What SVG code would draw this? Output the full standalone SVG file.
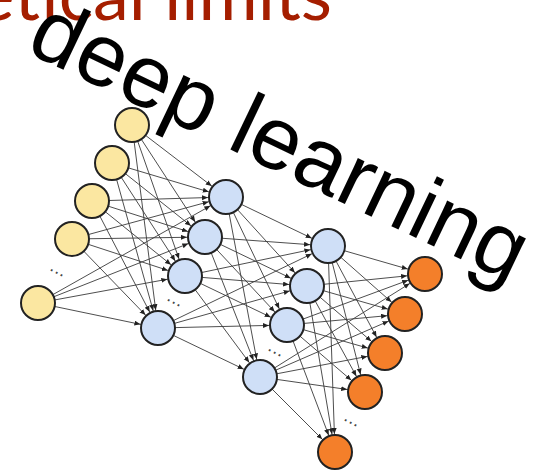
<svg xmlns="http://www.w3.org/2000/svg" width="537" height="472" viewBox="0 0 537 472">
  <defs>
    <marker id="arrow" markerUnits="userSpaceOnUse" markerWidth="7" markerHeight="6" refX="24" refY="2.5" orient="auto">
      <path d="M0,0 L6,2.5 L0,5 z" fill="#222"/>
    </marker>
    <style>
      .edge { stroke: #3a3a3a; stroke-width: 0.9; fill: none; marker-end: url(#arrow); }
      .node circle { stroke: #222; stroke-width: 2; }
      .in circle { fill: #fbe7a1; }
      .hid circle { fill: #cfdff7; }
      .out circle { fill: #f47f2a; }
      .dots { font-family: "Liberation Sans", Arial, sans-serif; font-size: 18px; fill: #444; letter-spacing: 0.5px; }
    </style>
  </defs>
  <rect width="537" height="472" fill="#ffffff"/>

  <!-- slide heading, running off the top edge -->
  <text x="332" y="20" text-anchor="end" font-family="Lato, 'Open Sans', sans-serif" font-size="72" fill="#a51e00">Theoretical limits</text>

  <!-- connections: every node feeds every node of the next layer -->
  <g id="connectors">
    <!-- input -> hidden 1 -->
    <line class="edge" x1="132" y1="125" x2="226" y2="197"/>
    <line class="edge" x1="132" y1="125" x2="205" y2="237"/>
    <line class="edge" x1="132" y1="125" x2="185" y2="276"/>
    <line class="edge" x1="132" y1="125" x2="158" y2="328"/>
    <line class="edge" x1="112" y1="163" x2="226" y2="197"/>
    <line class="edge" x1="112" y1="163" x2="205" y2="237"/>
    <line class="edge" x1="112" y1="163" x2="185" y2="276"/>
    <line class="edge" x1="112" y1="163" x2="158" y2="328"/>
    <line class="edge" x1="92" y1="201" x2="226" y2="197"/>
    <line class="edge" x1="92" y1="201" x2="205" y2="237"/>
    <line class="edge" x1="92" y1="201" x2="185" y2="276"/>
    <line class="edge" x1="92" y1="201" x2="158" y2="328"/>
    <line class="edge" x1="72" y1="239" x2="226" y2="197"/>
    <line class="edge" x1="72" y1="239" x2="205" y2="237"/>
    <line class="edge" x1="72" y1="239" x2="185" y2="276"/>
    <line class="edge" x1="72" y1="239" x2="158" y2="328"/>
    <line class="edge" x1="38" y1="303" x2="226" y2="197"/>
    <line class="edge" x1="38" y1="303" x2="205" y2="237"/>
    <line class="edge" x1="38" y1="303" x2="185" y2="276"/>
    <line class="edge" x1="38" y1="303" x2="158" y2="328"/>
    <!-- hidden 1 -> hidden 2 -->
    <line class="edge" x1="226" y1="197" x2="328" y2="246"/>
    <line class="edge" x1="226" y1="197" x2="307" y2="286"/>
    <line class="edge" x1="226" y1="197" x2="287" y2="325"/>
    <line class="edge" x1="226" y1="197" x2="260" y2="377"/>
    <line class="edge" x1="205" y1="237" x2="328" y2="246"/>
    <line class="edge" x1="205" y1="237" x2="307" y2="286"/>
    <line class="edge" x1="205" y1="237" x2="287" y2="325"/>
    <line class="edge" x1="205" y1="237" x2="260" y2="377"/>
    <line class="edge" x1="185" y1="276" x2="328" y2="246"/>
    <line class="edge" x1="185" y1="276" x2="307" y2="286"/>
    <line class="edge" x1="185" y1="276" x2="287" y2="325"/>
    <line class="edge" x1="185" y1="276" x2="260" y2="377"/>
    <line class="edge" x1="158" y1="328" x2="328" y2="246"/>
    <line class="edge" x1="158" y1="328" x2="307" y2="286"/>
    <line class="edge" x1="158" y1="328" x2="287" y2="325"/>
    <line class="edge" x1="158" y1="328" x2="260" y2="377"/>
    <!-- hidden 2 -> output -->
    <line class="edge" x1="328" y1="246" x2="425" y2="274"/>
    <line class="edge" x1="328" y1="246" x2="405" y2="314"/>
    <line class="edge" x1="328" y1="246" x2="385" y2="353"/>
    <line class="edge" x1="328" y1="246" x2="365" y2="392"/>
    <line class="edge" x1="328" y1="246" x2="335" y2="452"/>
    <line class="edge" x1="307" y1="286" x2="425" y2="274"/>
    <line class="edge" x1="307" y1="286" x2="405" y2="314"/>
    <line class="edge" x1="307" y1="286" x2="385" y2="353"/>
    <line class="edge" x1="307" y1="286" x2="365" y2="392"/>
    <line class="edge" x1="307" y1="286" x2="335" y2="452"/>
    <line class="edge" x1="287" y1="325" x2="425" y2="274"/>
    <line class="edge" x1="287" y1="325" x2="405" y2="314"/>
    <line class="edge" x1="287" y1="325" x2="385" y2="353"/>
    <line class="edge" x1="287" y1="325" x2="365" y2="392"/>
    <line class="edge" x1="287" y1="325" x2="335" y2="452"/>
    <line class="edge" x1="260" y1="377" x2="425" y2="274"/>
    <line class="edge" x1="260" y1="377" x2="405" y2="314"/>
    <line class="edge" x1="260" y1="377" x2="385" y2="353"/>
    <line class="edge" x1="260" y1="377" x2="365" y2="392"/>
    <line class="edge" x1="260" y1="377" x2="335" y2="452"/>
  </g>

  <!-- input layer -->
  <g id="in1" class="node in"><circle cx="132" cy="125" r="17"/></g>
  <g id="in2" class="node in"><circle cx="112" cy="163" r="17"/></g>
  <g id="in3" class="node in"><circle cx="92" cy="201" r="17"/></g>
  <g id="in4" class="node in"><circle cx="72" cy="239" r="17"/></g>
  <g id="in5" class="node in"><circle cx="38" cy="303" r="17"/></g>

  <!-- hidden layer 1 -->
  <g id="h1a" class="node hid"><circle cx="226" cy="197" r="17"/></g>
  <g id="h1b" class="node hid"><circle cx="205" cy="237" r="17"/></g>
  <g id="h1c" class="node hid"><circle cx="185" cy="276" r="17"/></g>
  <g id="h1d" class="node hid"><circle cx="158" cy="328" r="17"/></g>

  <!-- hidden layer 2 -->
  <g id="h2a" class="node hid"><circle cx="328" cy="246" r="17"/></g>
  <g id="h2b" class="node hid"><circle cx="307" cy="286" r="17"/></g>
  <g id="h2c" class="node hid"><circle cx="287" cy="325" r="17"/></g>
  <g id="h2d" class="node hid"><circle cx="260" cy="377" r="17"/></g>

  <!-- output layer -->
  <g id="out1" class="node out"><circle cx="425" cy="274" r="17"/></g>
  <g id="out2" class="node out"><circle cx="405" cy="314" r="17"/></g>
  <g id="out3" class="node out"><circle cx="385" cy="353" r="17"/></g>
  <g id="out4" class="node out"><circle cx="365" cy="392" r="17"/></g>
  <g id="out5" class="node out"><circle cx="335" cy="452" r="17"/></g>

  <!-- ellipses between the last two nodes of each layer -->
  <text class="dots" transform="translate(49,270) rotate(27)">...</text>
  <text class="dots" transform="translate(166,300) rotate(27)">...</text>
  <text class="dots" transform="translate(267,350) rotate(27)">...</text>
  <text class="dots" transform="translate(343,420) rotate(27)">...</text>

  <!-- rotated caption -->
  <text transform="translate(24,51) rotate(25.5)" font-family="'Liberation Sans', Arial, sans-serif" font-size="89" fill="#000">deep learning</text>
</svg>
